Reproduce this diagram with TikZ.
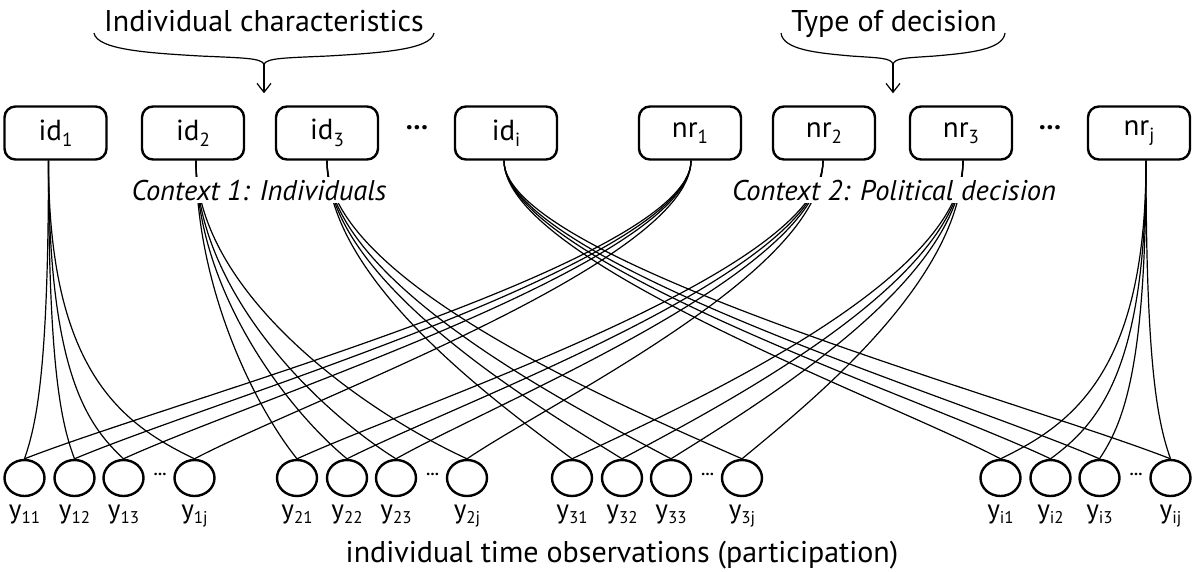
\documentclass[tikz,border=0pt]{standalone}
\usepackage{fontspec}
\setmainfont{PT Sans}
\usetikzlibrary{calc,shapes.geometric,arrows.meta}

\newcommand{\dn}[2][19]{\raisebox{-.22em}{\fontsize{#1}{#1}\selectfont #2}}

\tikzset{
  varbox/.style={draw, line width=2.4pt, rounded corners=11pt, minimum width=102pt,
    minimum height=53pt, inner sep=0pt, font=\fontsize{29}{29}\selectfont},
  obs/.style={draw, ellipse, line width=2.4pt, minimum width=40pt, minimum height=36pt, inner sep=0pt},
  obslabel/.style={anchor=base, inner sep=0pt, font=\fontsize{27}{27}\selectfont},
  link/.style={line width=1.2pt},
  ctx/.style={fill=white, inner xsep=1pt, inner ysep=3pt, anchor=base, font=\fontsize{28.5}{28.5}\selectfont\itshape},
  heading/.style={anchor=base, inner sep=0pt, font=\fontsize{30}{30}\selectfont},
  brace/.style={line width=1.2pt},
  pointer/.style={line width=1.2pt, -{Straight Barb[length=9pt,width=14pt]}},
}

\begin{document}
\begin{tikzpicture}[x=1pt,y=-1pt]
\useasboundingbox (0,0) rectangle (1192,571);

% context 1 and context 2 variables
\node[varbox] (id1) at (55.5,133) {id\dn{1}};
\node[varbox] (id2) at (193,133) {id\dn{2}};
\node[varbox] (id3) at (327,133) {id\dn{3}};
\node[font=\fontsize{28}{28}\selectfont\bfseries] (iddots) at (417,128) {\dots};
\node[varbox] (idi) at (506,133) {id\dn{i}};
\node[varbox] (nr1) at (690,133) {nr\dn{1}};
\node[varbox] (nr2) at (824,133) {nr\dn{2}};
\node[varbox] (nr3) at (961,133) {nr\dn{3}};
\node[font=\fontsize{28}{28}\selectfont\bfseries] (nrdots) at (1050,128) {\dots};
\node[varbox] (nrj) at (1139,133) {nr\dn{j}};

% observations
\foreach \g/\gx in {1/24.5,2/297,3/572,i/1000.5} {
  \foreach \m/\dx in {1/0,2/50,3/99,j/170} {
    \node[obs] (y\g\m) at (\gx+\dx,478) {};
    \node[obslabel] (ly\g\m) at (\gx+\dx,518) {y\dn[17]{\g\m}};
  }
  \node[font=\fontsize{16}{16}\selectfont\bfseries] (ydots\g) at (\gx+135.5,474) {\dots};
}

% links
\foreach \src/\g/\s/\a/\f/\c in {id1/1/-7/210/0.5/35, id2/2/3/130/0.4/50,
    id3/3/0/120/0.3/55, idi/i/-2/100/0.23/60, nr1/1/1/100/0.23/60,
    nr2/2/-1/110/0.25/60, nr3/3/2/120/0.3/55, nrj/i/7/210/0.5/35} {
  \foreach \m in {1,2,3,j} {
    \draw[link] let \p1=([xshift=\s pt]\src.south), \p2=(y\g\m.north) in
      (\p1) .. controls (\x1,\y1-\a pt) and ({\x2+\f*(\x1-\x2)},\y2+\c pt) .. (\p2);
  }
}

\node[ctx] (ctx1) at (259,200) {Context 1: Individuals};
\node[ctx] (ctx2) at (894,200) {Context 2: Political decision};

% headings with braces
\node[heading] (indiv) at (264,31) {Individual characteristics};
\node[heading] (type) at (894,31) {Type of decision};
\coordinate (tip1) at (264,64);
\coordinate (tip2) at (893,64);
\draw[brace] (94,33) .. controls (97,50) and (150,53) .. (200,56)
  .. controls (245,58) and (260,58) .. (tip1)
  .. controls (268,58) and (283,58) .. (328,56)
  .. controls (378,53) and (431,50) .. (434,33);
\draw[brace] (781,33) .. controls (783,50) and (818,53) .. (851,56)
  .. controls (881,58) and (890.5,58) .. (tip2)
  .. controls (895.5,58) and (905,58) .. (935,56)
  .. controls (968,53) and (1003,50) .. (1005,33);
\draw[pointer] (tip1) -- ([yshift=12pt]id2.north -| tip1);
\draw[pointer] (tip2) -- ([yshift=12pt]nr2.north -| tip2);

\node[heading] (obsline) at (622,562) {individual time observations (participation)};
\end{tikzpicture}
\end{document}
